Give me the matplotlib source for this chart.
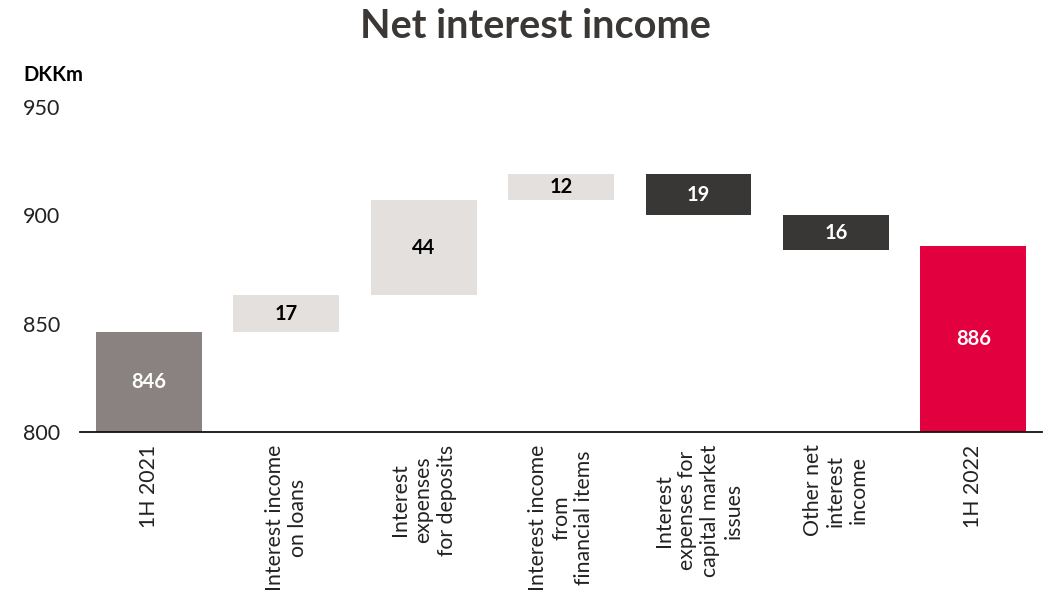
import matplotlib
matplotlib.use("Agg")
import matplotlib.pyplot as plt

# Waterfall data (DKKm)
categories = [
    "1H 2021",
    "Interest income\non loans",
    "Interest\nexpenses\nfor deposits",
    "Interest income\nfrom\nfinancial items",
    "Interest\nexpenses for\ncapital market\nissues",
    "Other net\ninterest\nincome",
    "1H 2022",
]
start_value = 846
changes = [17, 44, 12, -19, -16]
end_value = 886
y_ticks = [800, 850, 900, 950]

col_total_start = "#8a8280"
col_up = "#e4e0dd"
col_down = "#383735"
col_total_end = "#e2003e"

plt.rcParams["font.family"] = ["Lato", "DejaVu Sans"]

fig = plt.figure(figsize=(10.56, 6.0), dpi=100)
ax = fig.add_axes([0.0758, 0.28, 0.911, 0.542])

width = 0.77
base = 800
val_fs = 14.5

# Opening total
ax.bar(0, start_value - base, bottom=base, width=width, color=col_total_start)
ax.text(0, (start_value + base) / 2, str(start_value), ha="center", va="center",
        color="white", fontsize=val_fs, fontweight="bold")

# Floating change bars
running = start_value
for i, d in enumerate(changes, start=1):
    lo = running if d > 0 else running + d
    color = col_up if d > 0 else col_down
    tcolor = "black" if d > 0 else "white"
    ax.bar(i, abs(d), bottom=lo, width=width, color=color)
    ax.text(i, lo + abs(d) / 2, str(abs(d)), ha="center", va="center",
            color=tcolor, fontsize=val_fs, fontweight="bold")
    running += d

# Closing total
n = len(categories) - 1
ax.bar(n, end_value - base, bottom=base, width=width, color=col_total_end)
ax.text(n, (end_value + base) / 2, str(end_value), ha="center", va="center",
        color="white", fontsize=val_fs, fontweight="bold")

ax.set_xlim(-0.5, n + 0.5)
ax.set_ylim(800, 950)
ax.set_yticks(y_ticks)
ax.set_yticklabels([str(t) for t in y_ticks], fontsize=15.5, color="#222222")
ax.set_xticks(range(len(categories)))
ax.set_xticklabels(categories, rotation=90, fontsize=15.3, color="#222222",
                   multialignment="center", linespacing=1.2)
ax.tick_params(axis="both", length=0)
ax.tick_params(axis="x", pad=9)
ax.tick_params(axis="y", pad=14)
for s in ["top", "right", "left"]:
    ax.spines[s].set_visible(False)
ax.spines["bottom"].set_color("#111111")
ax.spines["bottom"].set_linewidth(1.3)
ax.spines["bottom"].set_zorder(3)

fig.text(0.507, 0.955, "Net interest income", ha="center", va="center",
         fontsize=28.5, fontweight="bold", color="#3a3735")
fig.text(0.022, 0.875, "DKKm", ha="left", va="center",
         fontsize=14.5, fontweight="bold", color="black")

fig.savefig("out.png", dpi=100)
